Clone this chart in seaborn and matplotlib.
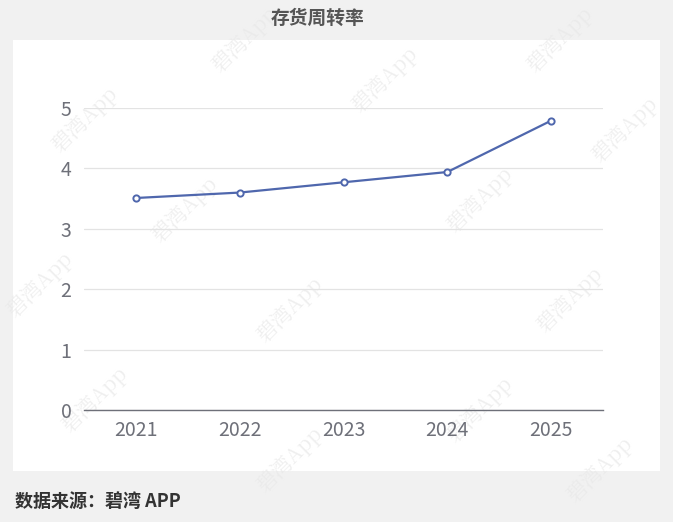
"""
    存货周转率 line chart.
"""

import pandas as pd
import matplotlib.pyplot as plt
import seaborn as sns
from matplotlib.patches import Rectangle

# Data
years = ['2021', '2022', '2023', '2024', '2025']
turnover = [3.51, 3.60, 3.77, 3.94, 4.79]
y_ticks = [0, 1, 2, 3, 4, 5]

df = pd.DataFrame({'year': years, 'turnover': turnover})

sns.set_style("white")
plt.rcParams['font.family'] = ['Noto Sans CJK SC', 'DejaVu Sans']

fig = plt.figure(figsize=(6.73, 5.22), dpi=100)
fig.patch.set_facecolor('#f1f1f1')

# White panel behind the plot
fig.patches.append(Rectangle((13 / 673, 1 - 471 / 522), 647 / 673, 431 / 522,
                             transform=fig.transFigure, facecolor='white',
                             edgecolor='none', zorder=-2))

# Faint watermark text
wm_pos = [(85, 120), (185, 210), (290, 310), (385, 80), (480, 200), (570, 300),
          (95, 400), (290, 460), (480, 410), (625, 130), (40, 285), (560, 40),
          (600, 470), (245, 40)]
for (px, py) in wm_pos:
    fig.text(px / 673, 1 - py / 522, '碧湾App', rotation=45, fontsize=15,
             family=['Noto Serif CJK SC', 'DejaVu Serif'],
             color='#e8e8e8', alpha=0.7, ha='center', va='center', zorder=-1)

ax = fig.add_axes([84 / 673, 1 - 410 / 522, 519 / 673, 302 / 522])
ax.set_facecolor('none')

sns.lineplot(data=df, x='year', y='turnover', ax=ax, color='#4f67ad',
             linewidth=1.6, marker='o', markersize=4.5, markerfacecolor='white',
             markeredgecolor='#4f67ad', markeredgewidth=1.4, clip_on=False, zorder=3)

ax.set_xlim(-0.5, len(years) - 0.5)
ax.set_ylim(0, 5)
ax.set_yticks(y_ticks)
ax.set_yticklabels([str(t) for t in y_ticks])
ax.grid(axis='y', color='#e3e3e3', linewidth=0.9)
ax.set_axisbelow(True)

for side in ['top', 'right', 'left']:
    ax.spines[side].set_visible(False)
ax.spines['bottom'].set_color('#6e7079')
ax.spines['bottom'].set_linewidth(1.0)

ax.tick_params(axis='both', length=0, labelsize=14, colors='#6e7079')
ax.tick_params(axis='x', pad=7)
ax.tick_params(axis='y', pad=9)
ax.set_xlabel('')
ax.set_ylabel('')

fig.text(318 / 673, 1 - 18 / 522, '存货周转率', fontsize=13.5, fontweight='bold',
         color='#555555', ha='center', va='center')
fig.text(15 / 673, 1 - 501 / 522, '数据来源：碧湾 APP', fontsize=13,
         fontweight='bold', color='#333333', ha='left', va='center')

plt.savefig('out.png', dpi=100, facecolor=fig.get_facecolor())
